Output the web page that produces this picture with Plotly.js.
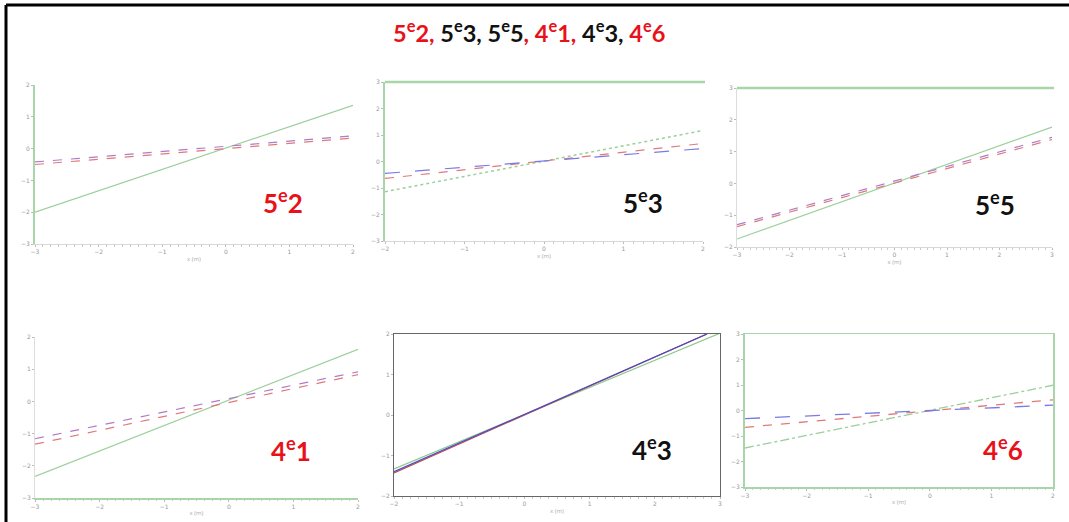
<!DOCTYPE html>
<html>
<head>
<meta charset="utf-8">
<script src="https://cdn.plot.ly/plotly-3.0.1.min.js"></script>
<style>html,body{margin:0;padding:0;background:#fff;}#chart{width:1069px;height:522px;}</style>
</head>
<body>
<div id="chart"></div>
<script>
// ---- data ----
const panelNames = ["5e2", "5e3", "5e5", "4e1", "4e3", "4e6"];
const panelRed = [true, false, false, true, false, true];

const p1_x = [-3, 2];
const p1_green = [-2.0, 1.36];
const p1_red = [-0.5, 0.33];
const p1_purple = [-0.42, 0.40];

const p2_x = [-2, 2];
const p2_green = [-1.14, 1.17];
const p2_red = [-0.64, 0.68];
const p2_blue = [-0.45, 0.49];

const p3_x = [-3, 3];
const p3_green = [-1.75, 1.77];
const p3_red = [-1.36, 1.38];
const p3_blue = [-1.30, 1.45];

const p4_x = [-3, 2];
const p4_green = [-2.33, 1.62];
const p4_red = [-1.33, 0.83];
const p4_purple = [-1.16, 0.92];

const p5_x = [-2, 2.8];
const p5_red = [-1.43, 2.0];
const p5_blue = [-1.40, 2.0];
const p5_xg = [-2, 3];
const p5_green = [-1.33, 2.02];

const p6_x = [-3, 2];
const p6_green = [-1.47, 0.99];
const p6_red = [-0.66, 0.42];
const p6_blue = [-0.32, 0.21];

// ---- layout helpers ----
const W = 1069, H = 522;
const px = v => v / W;
const py = v => 1 - v / H;

const GREEN = '#a9d6a9';
const boxes = [
  {l:35, r:353, t:85, b:244, xr:[-3,2], yr:[-3,2], lx:283, ly:202},
  {l:385, r:703, t:82, b:241, xr:[-2,2], yr:[-3,3], lx:643, ly:202},
  {l:737, r:1052, t:88, b:247, xr:[-3,3], yr:[-2,3], lx:995, ly:204},
  {l:35, r:358, t:337, b:498, xr:[-3,2], yr:[-3,2], lx:291, ly:449},
  {l:394, r:720, t:334, b:496, xr:[-2,3], yr:[-2,2], lx:652, ly:448},
  {l:745, r:1053, t:334, b:487, xr:[-3,2], yr:[-3,3], lx:1003, ly:448}
];
const yLineColor = [GREEN, GREEN, '#dddddd', '#dddddd', '#666666', GREEN];
const xLineColor = ['#d8d8d8', '#d8d8d8', '#d8d8d8', GREEN, '#666666', GREEN];
const mirrorBox = [false, false, false, false, true, true];

const layout = {
  width: W, height: H,
  margin: {l:0, r:0, t:0, b:0},
  paper_bgcolor: '#ffffff', plot_bgcolor: 'rgba(0,0,0,0)',
  showlegend: false,
  shapes: [], annotations: []
};

boxes.forEach((b, i) => {
  const n = i === 0 ? '' : String(i + 1);
  const common = {
    showgrid: false, zeroline: false, ticks: 'outside', ticklen: 2,
    tickcolor: '#bbbbbb', tickfont: {size: 6, color: '#999999', family: 'DejaVu Sans'},
    dtick: 1, fixedrange: true, showline: true
  };
  layout['xaxis' + n] = Object.assign({}, common, {
    domain: [px(b.l), px(b.r)], range: b.xr, anchor: 'y' + n,
    linecolor: xLineColor[i], linewidth: (i === 3 || i === 5) ? 1.5 : 1,
    mirror: mirrorBox[i],
    minor: {ticks: 'outside', ticklen: 1.5, dtick: 0.125, tickcolor: '#cccccc'},
    title: {text: 'x (m)', font: {size: 6, color: '#aaaaaa'}, standoff: 2}
  });
  layout['yaxis' + n] = Object.assign({}, common, {
    domain: [py(b.b), py(b.t)], range: b.yr, anchor: 'x' + n,
    linecolor: yLineColor[i], linewidth: (i <= 1 || i === 5) ? 2 : 1,
    mirror: mirrorBox[i]
  });
  const col = panelRed[i] ? '#e8111a' : '#111111';
  const name = panelNames[i];
  layout.annotations.push({
    xref: 'paper', yref: 'paper',
    x: px(b.lx), y: py(b.ly),
    xanchor: 'center', yanchor: 'middle', showarrow: false,
    text: '<b>' + name[0] + '<sup>e</sup>' + name.slice(2) + '</b>',
    font: {family: 'Lato, Open Sans, sans-serif', size: 26, color: col}
  });
});

// top green lines on panels 2 and 3
[1, 2].forEach(i => {
  const b = boxes[i];
  layout.shapes.push({type: 'line', xref: 'paper', yref: 'paper',
    x0: px(b.l), x1: px(b.r + 2), y0: py(b.t), y1: py(b.t),
    line: {color: GREEN, width: 2.5}});
});

// outer black frame (left and top)
layout.shapes.push({type: 'line', xref: 'paper', yref: 'paper',
  x0: px(6), x1: px(6), y0: 0, y1: py(5), line: {color: '#000', width: 3}});
layout.shapes.push({type: 'line', xref: 'paper', yref: 'paper',
  x0: px(6), x1: 1, y0: py(5), y1: py(5), line: {color: '#000', width: 3}});

// title
const R = s => '<span style="color:#e8111a">' + s + '</span>';
const K = s => '<span style="color:#111111">' + s + '</span>';
const e = (a, b) => a + '<sup>e</sup>' + b;
layout.annotations.push({
  xref: 'paper', yref: 'paper', x: px(529), y: py(32),
  xanchor: 'center', yanchor: 'middle', showarrow: false,
  text: '<b>' + R(e('5','2') + ', ') + K(e('5','3') + ', ' + e('5','5')) + R(', ' + e('4','1') + ', ') + K(e('4','3') + ', ') + R(e('4','6')) + '</b>',
  font: {family: 'Lato, Open Sans, sans-serif', size: 23.5, color: '#111'}
});

// ---- traces ----
const traces = [];
function add(i, x, y, color, dash, width) {
  const n = i === 0 ? '' : String(i + 1);
  traces.push({type: 'scatter', mode: 'lines', x: x, y: y, xaxis: 'x' + n, yaxis: 'y' + n,
    line: {color: color, dash: dash, width: width || 1.2}, hoverinfo: 'skip', cliponaxis: true});
}
const G = '#9ccf9c', RD = '#e07a7a', BL = '#7a7ae6', PU = '#b07ac8';

add(0, p1_x, p1_green, G, 'solid');
add(0, p1_x, p1_red, RD, 'dash');
add(0, p1_x, p1_purple, PU, 'dash');

add(1, p2_x, p2_green, G, 'dot', 1.5);
add(1, p2_x, p2_red, RD, 'dash');
add(1, p2_x, p2_blue, BL, 'longdash');

add(2, p3_x, p3_green, G, 'solid');
add(2, p3_x, p3_red, RD, 'dash');
add(2, p3_x, p3_blue, PU, 'dash');

add(3, p4_x, p4_green, G, 'solid');
add(3, p4_x, p4_red, RD, 'dash');
add(3, p4_x, p4_purple, PU, 'dash');

add(4, p5_xg, p5_green, '#8cc88c', 'solid');
add(4, p5_x, p5_red, '#c04848', 'solid');
add(4, p5_x, p5_blue, '#4a4ac8', 'solid');

add(5, p6_x, p6_green, G, 'dashdot', 1.3);
add(5, p6_x, p6_red, RD, 'dash', 1.3);
add(5, p6_x, p6_blue, BL, 'longdash', 1.3);

Plotly.newPlot('chart', traces, layout, {displayModeBar: false, staticPlot: true});
</script>
</body>
</html>
